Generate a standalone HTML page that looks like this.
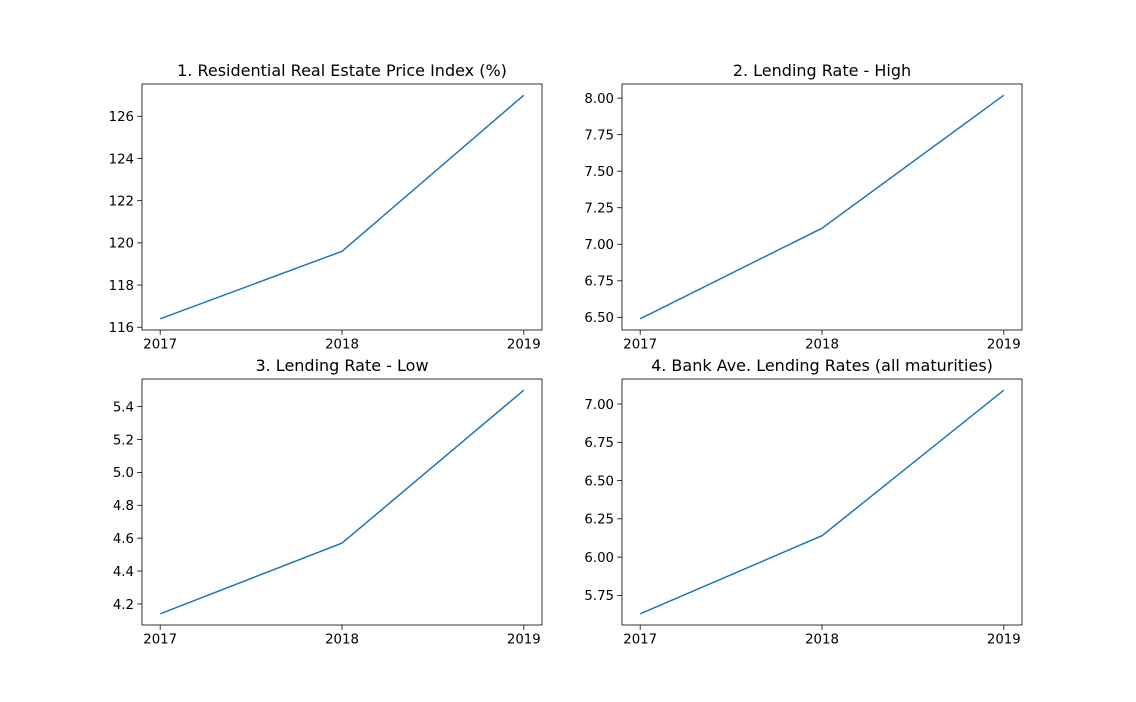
<!DOCTYPE html>
<html><head><meta charset="utf-8"><style>
body{margin:0;background:#fff;}
svg{display:block;font-family:"DejaVu Sans","Liberation Sans",sans-serif;}
</style></head><body>
<svg id="fig" width="1136" height="702"></svg>
<script>
const years = [2017, 2018, 2019];
const titles = ["1. Residential Real Estate Price Index (%)", "2. Lending Rate - High", "3. Lending Rate - Low", "4. Bank Ave. Lending Rates (all maturities)"];
const seriesPrice = [116.4, 119.6, 127.0];
const seriesHigh = [6.49, 7.11, 8.02];
const seriesLow = [4.14, 4.57, 5.50];
const seriesAvg = [5.63, 6.14, 7.09];
const ticksPrice = [116, 118, 120, 122, 124, 126];
const ticksHigh = [6.50, 6.75, 7.00, 7.25, 7.50, 7.75, 8.00];
const ticksLow = [4.2, 4.4, 4.6, 4.8, 5.0, 5.2, 5.4];
const ticksAvg = [5.75, 6.00, 6.25, 6.50, 6.75, 7.00];
const tickDigits = [0, 2, 1, 2];
const names = ["price-index", "lending-high", "lending-low", "bank-average"];

const NS = "http://www.w3.org/2000/svg";
const svg = document.getElementById("fig");
function mk(tag, attrs, parent) {
  const e = document.createElementNS(NS, tag);
  for (const k in attrs) e.setAttribute(k, attrs[k]);
  (parent || svg).appendChild(e);
  return e;
}
const panels = [
  {x: 142, y: 84, s: seriesPrice, t: ticksPrice},
  {x: 622, y: 84, s: seriesHigh, t: ticksHigh},
  {x: 142, y: 379, s: seriesLow, t: ticksLow},
  {x: 622, y: 379, s: seriesAvg, t: ticksAvg}
];
const W = 400, H = 246;
panels.forEach((p, i) => {
  const g = mk("g", {});
  
  
  const xmin = Math.min(...years), xmax = Math.max(...years);
  const xm = (xmax - xmin) * 0.05;
  const ymin = Math.min(...p.s), ymax = Math.max(...p.s);
  const ym = (ymax - ymin) * 0.05;
  const sx = v => p.x + (v - (xmin - xm)) / ((xmax + xm) - (xmin - xm)) * W;
  const sy = v => p.y + H - (v - (ymin - ym)) / ((ymax + ym) - (ymin - ym)) * H;
  // line
  const pts = p.s.map((v, k) => sx(years[k]).toFixed(2) + "," + sy(v).toFixed(2)).join(" ");
  const line = mk("polyline", {points: pts, fill: "none", stroke: "#1f77b4", "stroke-width": 1.5}, g);
  
  
  // frame
  const fr = mk("rect", {x: p.x, y: p.y, width: W, height: H, fill: "none", stroke: "#000", "stroke-width": 0.8}, g);
  
  
  // x ticks
  years.forEach(yr => {
    const x = sx(yr);
    mk("line", {x1: x, x2: x, y1: p.y + H, y2: p.y + H + 4.9, stroke: "#000", "stroke-width": 0.8}, g);
    const t = mk("text", {x: x, y: p.y + H + 18.5, "text-anchor": "middle", "font-size": "13.3px"}, g);
    t.textContent = yr;
    
    
  });
  // y ticks
  p.t.forEach(v => {
    const y = sy(v);
    mk("line", {x1: p.x, x2: p.x - 4.9, y1: y, y2: y, stroke: "#000", "stroke-width": 0.8}, g);
    const t = mk("text", {x: p.x - 8, y: y + 4.8, "text-anchor": "end", "font-size": "13.3px"}, g);
    t.textContent = v.toFixed(tickDigits[i]);
    
    
  });
  const tt = mk("text", {x: p.x + W / 2, y: p.y - 8, "text-anchor": "middle", "font-size": "16px"}, g);
  tt.textContent = titles[i];
  
  
});
</script>
</body></html>
